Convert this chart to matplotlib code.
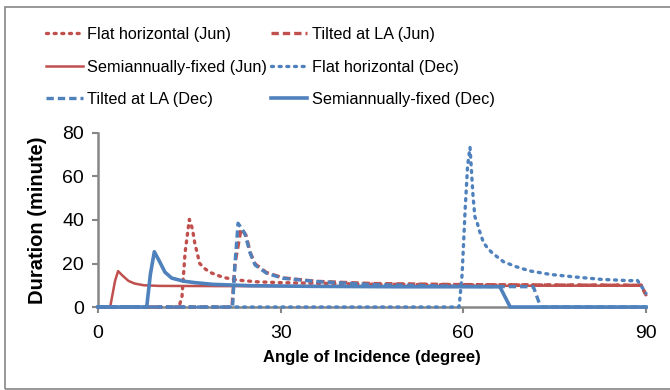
import matplotlib
matplotlib.use("Agg")
import matplotlib.pyplot as plt
from matplotlib.patches import Rectangle

plt.rcParams['font.family'] = ['Liberation Sans', 'DejaVu Sans']

RED = '#C0504D'
BLUE = '#4F81BD'

# angle of incidence (degree) / duration (minute)
flat_jun_x = [0, 13.3, 13.8, 14.3, 15.0, 15.5, 15.9, 16.7, 17.6, 18.5, 19.6, 20.6, 22.8, 26.0, 29.9, 35.9, 45, 60, 75, 89.2, 90]
flat_jun_y = [0, 0, 5, 25, 40.3, 36, 29.3, 20, 17.5, 15.8, 14.6, 13.6, 12.4, 11.6, 11.2, 10.9, 10.5, 10.2, 10.1, 10.0, 5.5]

tilt_jun_x = [0, 22.0, 22.5, 23.5, 24.3, 25.0, 25.8, 27.7, 30.4, 35.9, 45, 60, 75, 89.2, 90]
tilt_jun_y = [0, 0, 20, 36, 33, 25, 19.8, 15.8, 13.4, 11.8, 10.8, 10.3, 10.1, 10.0, 5.5]

semi_jun_x = [0, 2.0, 2.8, 3.3, 4.0, 5.0, 6.0, 7.5, 10, 20, 40, 60, 75, 89.3, 90]
semi_jun_y = [0, 0, 12, 16.5, 14.5, 12, 10.8, 10.0, 9.7, 9.6, 9.6, 9.7, 9.8, 9.8, 5.5]

flat_dec_x = [0, 59.3, 59.8, 60.3, 60.7, 61.1, 61.6, 61.9, 62.3, 62.6, 63.3, 64.0, 64.8, 66.6, 68.7, 70.9, 74.2, 78.0, 82.7, 87.4, 88.6, 89.3, 90]
flat_dec_y = [0, 0, 15, 45, 65, 73.4, 50.7, 41.5, 38.5, 35.4, 29.7, 27.0, 24.7, 20.8, 18.5, 16.6, 15.0, 13.9, 12.7, 12.1, 12.2, 9.3, 6.3]

tilt_dec_x = [0, 22.1, 22.5, 23.0, 24.1, 25.0, 25.8, 27.7, 30.4, 35.9, 45, 60, 71.5, 72.7, 90]
tilt_dec_y = [0, 0, 20, 38.5, 33.9, 24.7, 19.3, 15.5, 13.2, 11.7, 10.3, 9.5, 9.3, 0, 0]

semi_dec_x = [0, 8.0, 8.6, 9.25, 10.0, 11.0, 12.1, 14.0, 15.9, 18.9, 25, 35, 50, 66.0, 67.7, 90]
semi_dec_y = [0, 0, 15, 25.4, 21.5, 16.0, 13.3, 11.9, 11.2, 10.4, 9.8, 9.5, 9.3, 9.3, 0, 0]

labels = ['Flat horizontal (Jun)', 'Tilted at LA (Jun)', 'Semiannually-fixed (Jun)',
          'Flat horizontal (Dec)', 'Tilted at LA (Dec)', 'Semiannually-fixed (Dec)']

fig = plt.figure(figsize=(6.7, 3.9), dpi=100)
ax = fig.add_axes([98 / 670, 1 - 307 / 390, 548 / 670, 174 / 390])

dot = (0, (0.6, 1.7))
dash = (0, (2.2, 1.2))
h = []
h += ax.plot(flat_jun_x, flat_jun_y, color=RED, lw=2.4, ls=dot, dash_capstyle='round')
h += ax.plot(tilt_jun_x, tilt_jun_y, color=RED, lw=2.4, ls=dash)
h += ax.plot(semi_jun_x, semi_jun_y, color=RED, lw=1.8)
h += ax.plot(flat_dec_x, flat_dec_y, color=BLUE, lw=2.4, ls=dot, dash_capstyle='round')
h += ax.plot(tilt_dec_x, tilt_dec_y, color=BLUE, lw=2.4, ls=dash)
h += ax.plot(semi_dec_x, semi_dec_y, color=BLUE, lw=2.6)
for line in h:
    line.set_clip_on(False)
    line.set_zorder(3)

ax.set_xlim(0, 90)
ax.set_ylim(0, 80)
ax.set_xticks([0, 30, 60, 90])
ax.set_yticks([0, 20, 40, 60, 80])
for s in ['top', 'right']:
    ax.spines[s].set_visible(False)
for s in ['left', 'bottom']:
    ax.spines[s].set_color('#868686')
    ax.spines[s].set_linewidth(1.8)
ax.tick_params(colors='#868686', width=1.5, length=4, labelsize=14, labelcolor='black')
ax.tick_params(axis='x', pad=9)
ax.tick_params(axis='y', pad=6)
ax.set_xlabel('Angle of Incidence (degree)', fontsize=12, fontweight='bold', labelpad=6)
ax.set_ylabel('Duration (minute)', fontsize=14.5, fontweight='bold', labelpad=11)

# legend filled column by column, so reorder to match the row layout
order = [0, 2, 4, 1, 3, 5]
fig.legend([h[i] for i in order], [labels[i] for i in order], ncol=2,
           loc='upper left', bbox_to_anchor=(46 / 670, 1 - 27 / 390),
           frameon=False, fontsize=11.7, handlelength=2.25, handletextpad=0.3,
           columnspacing=0.2, labelspacing=1.08, borderpad=0, borderaxespad=0)

fig.patches.append(Rectangle((5 / 670, 1 / 390), 1.0, 382 / 390, transform=fig.transFigure,
                             fill=False, edgecolor='#868686', lw=1.2))

plt.savefig('out.png', dpi=100)
plt.close()
